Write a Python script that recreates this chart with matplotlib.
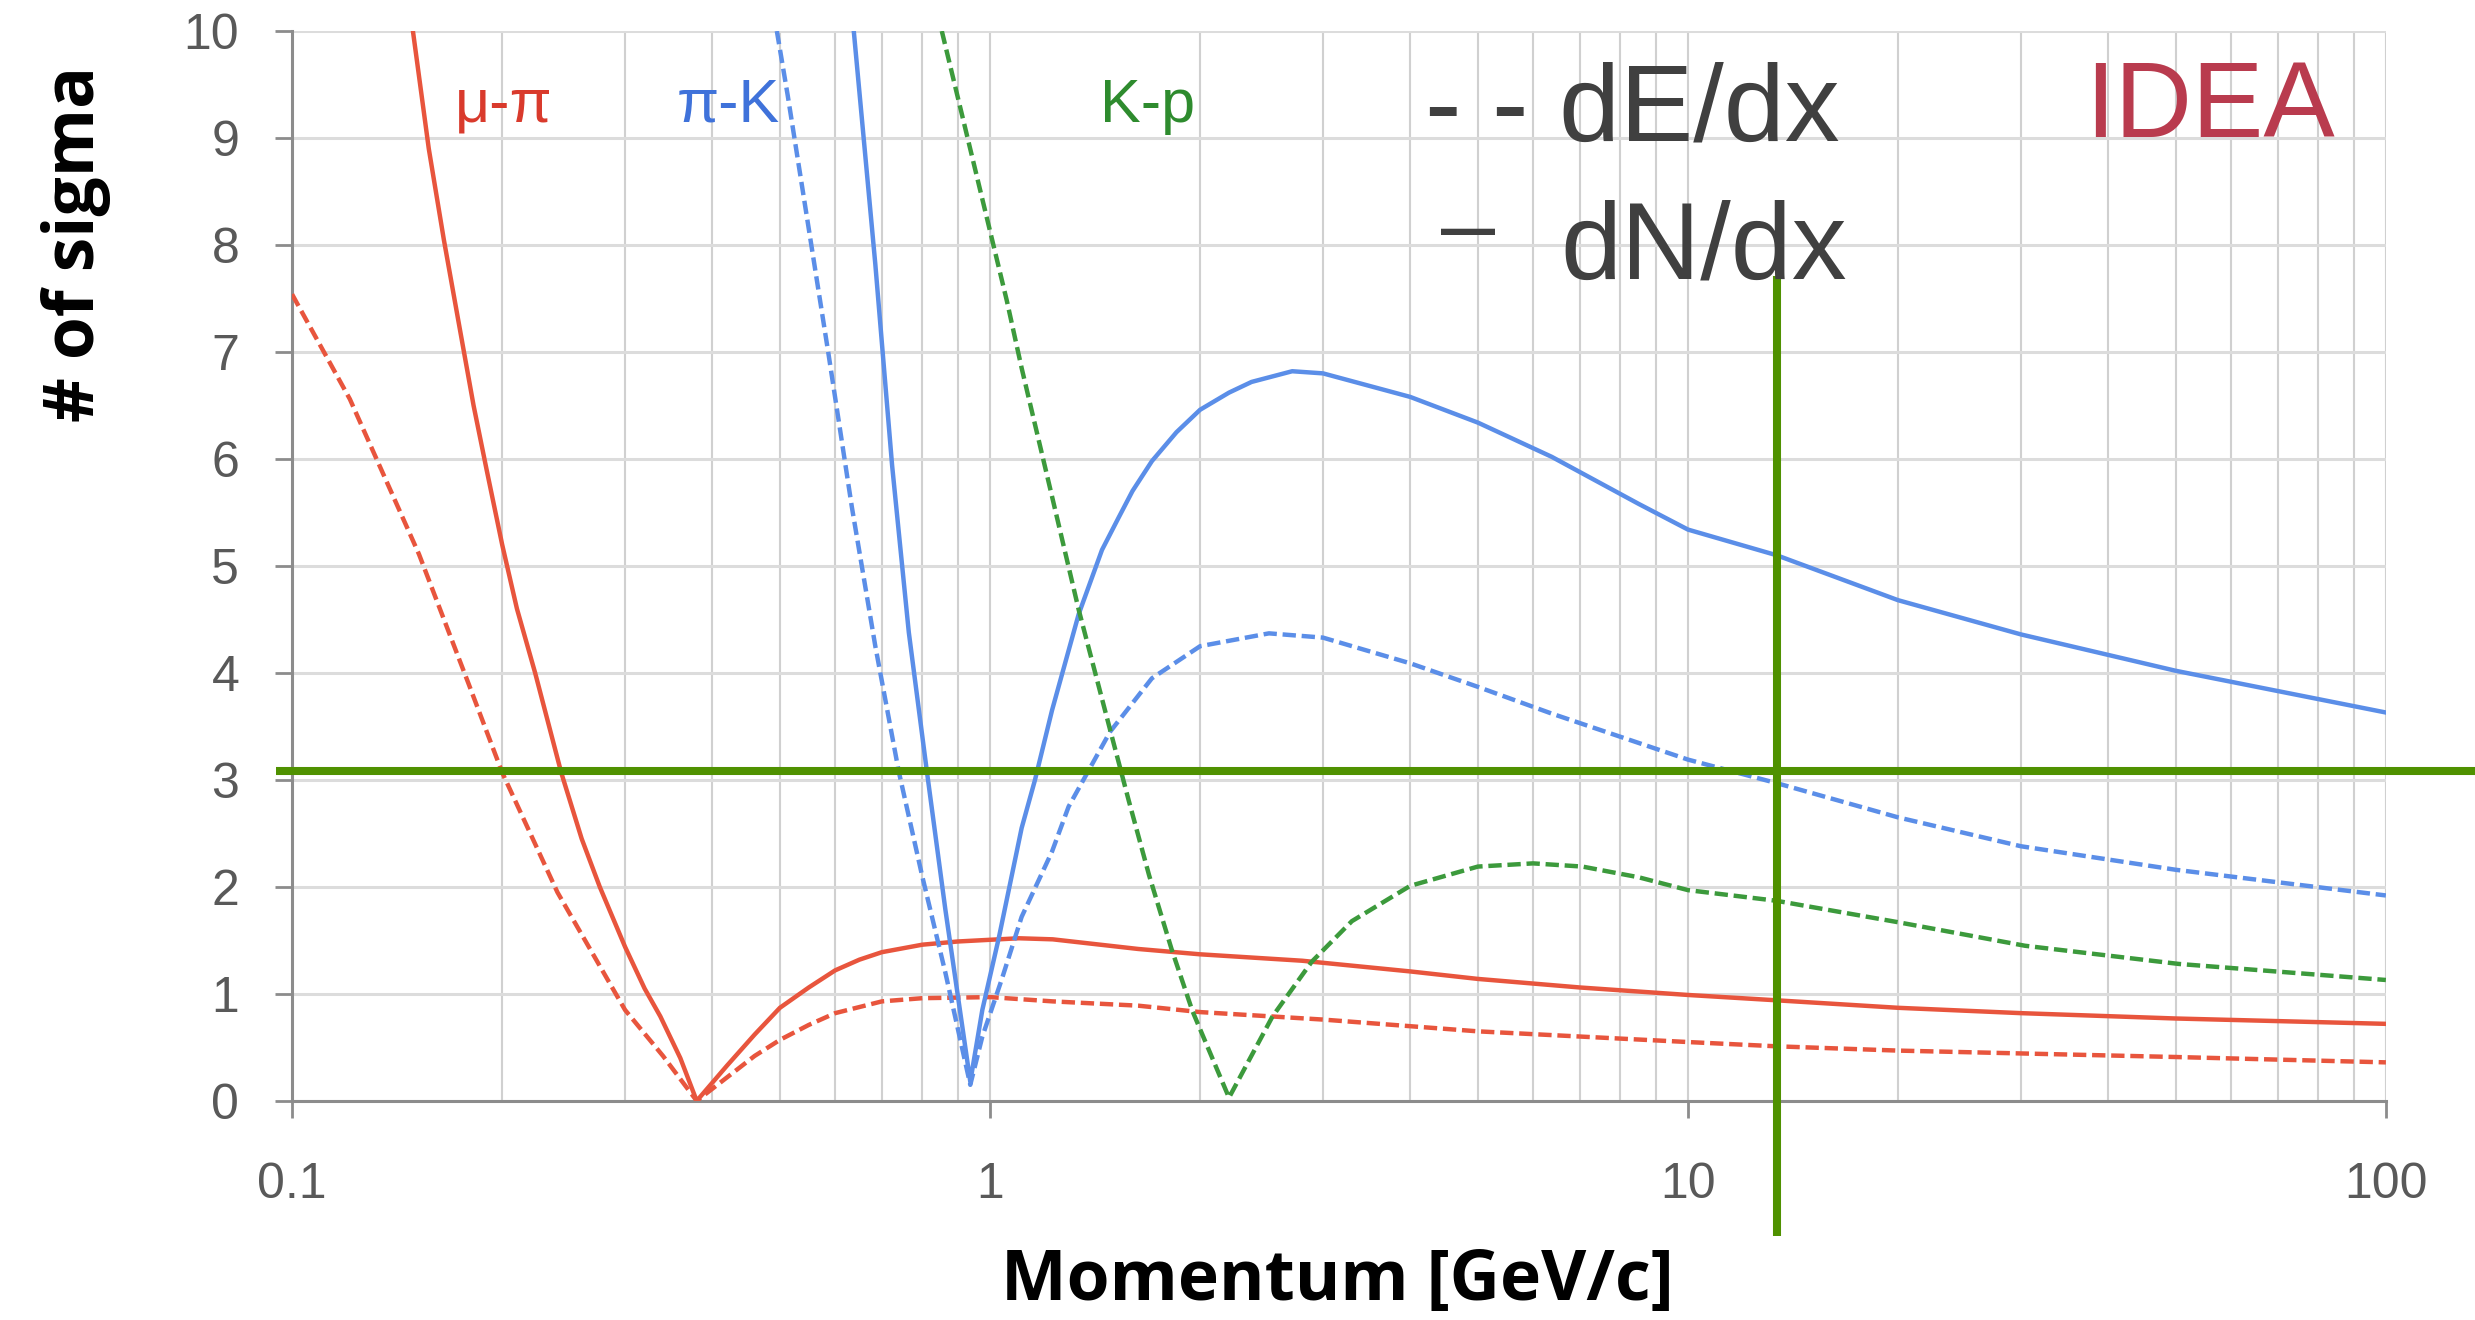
import matplotlib
matplotlib.use("Agg")
import matplotlib.pyplot as plt
from matplotlib.ticker import LogLocator, NullFormatter

plt.rcParams['font.family'] = ['Liberation Sans', 'DejaVu Sans']

# Momentum [GeV/c] and separation power [# of sigma]
# mu-pi, dN/dx (solid) and dE/dx (dashed)
p_mupi_dndx = [0.149, 0.157, 0.165, 0.173, 0.182, 0.19, 0.2, 0.21, 0.223, 0.243, 0.26,
               0.276, 0.3, 0.32, 0.337, 0.36, 0.38,
               0.42, 0.46, 0.5, 0.55, 0.6, 0.65, 0.7, 0.8, 0.9, 1.1, 1.23, 1.63, 2.0, 2.8,
               4, 5, 7, 10, 13.4, 20, 30, 50, 100]
s_mupi_dndx = [10, 8.9, 8.05, 7.3, 6.5, 5.9, 5.2, 4.6, 4.0, 3.07, 2.45,
               2.0, 1.44, 1.05, 0.79, 0.4, 0.0,
               0.33, 0.62, 0.87, 1.06, 1.22, 1.32, 1.39, 1.46, 1.49, 1.52, 1.51, 1.42, 1.37, 1.31,
               1.21, 1.14, 1.06, 0.99, 0.94, 0.87, 0.82, 0.77, 0.72]
p_mupi_dedx = [0.1, 0.121, 0.152, 0.179, 0.2, 0.24, 0.3, 0.34, 0.38,
               0.42, 0.46, 0.5, 0.55, 0.6, 0.7, 0.8, 1.0, 1.23, 1.63, 2.0, 3.0,
               5, 10, 13.4, 20, 50, 100]
s_mupi_dedx = [7.54, 6.56, 5.11, 3.9, 3.07, 1.95, 0.85, 0.42, 0.0,
               0.22, 0.42, 0.57, 0.71, 0.82, 0.93, 0.96, 0.97, 0.93, 0.89, 0.83, 0.76,
               0.65, 0.55, 0.51, 0.47, 0.41, 0.36]

# pi-K
p_pik_dndx = [0.638, 0.685, 0.724, 0.765, 0.812, 0.863, 0.937, 0.975, 1.03, 1.11,
              1.16, 1.227, 1.34, 1.447, 1.528, 1.6, 1.706, 1.85, 2.0, 2.2, 2.37, 2.71,
              3.0, 4, 5, 6.38, 8.5, 10, 13.4, 20, 30, 50, 100]
s_pik_dndx = [10, 7.82, 5.94, 4.38, 3.08, 1.79, 0.18, 0.85, 1.53, 2.55,
              3.0, 3.65, 4.55, 5.15, 5.45, 5.7, 5.98, 6.25, 6.46, 6.62, 6.72, 6.82,
              6.80, 6.58, 6.34, 6.02, 5.58, 5.34, 5.1, 4.68, 4.36, 4.02, 3.63]
p_pik_dedx = [0.495, 0.513, 0.55, 0.587, 0.634, 0.685, 0.74, 0.799, 0.863, 0.937,
              0.975, 1.04, 1.11, 1.227, 1.296, 1.486, 1.706, 2.0, 2.51, 3.0,
              4, 5, 6.38, 10, 13.4, 20, 30, 50, 100]
s_pik_dedx = [10, 9.4, 8.15, 6.98, 5.55, 4.25, 3.08, 2.11, 1.2, 0.15,
              0.6, 1.14, 1.72, 2.33, 2.75, 3.45, 3.95, 4.25, 4.37, 4.33,
              4.09, 3.87, 3.62, 3.19, 2.97, 2.65, 2.38, 2.16, 1.92]

# K-p, dE/dx only
p_kp_dedx = [0.853, 1.057, 1.11, 1.227, 1.34, 1.486, 1.58, 1.69, 1.82, 1.95, 2.2,
             2.54, 2.89, 3.3, 4, 5, 6, 7.06, 8.5, 10, 13.4, 20, 30.4, 50.5, 100]
s_kp_dedx = [10, 7.48, 6.85, 5.65, 4.59, 3.47, 2.81, 2.11, 1.42, 0.84, 0.03,
             0.79, 1.3, 1.68, 2.01, 2.19, 2.22, 2.19, 2.09, 1.97, 1.87, 1.67, 1.45, 1.28, 1.13]

# green guide lines: 3 sigma level and momentum cut
SIGMA_CUT = 3.08
P_CUT = 13.4

x_ticks = [0.1, 1, 10, 100]
x_tick_labels = ['0.1', '1', '10', '100']
y_ticks = list(range(0, 11))

RED = '#e8553d'
BLUE = '#5b8ee8'
GREEN = '#3c9a3c'
CUT_GREEN = '#4f9100'
LW = 3.2
dash = (0, (3.0, 1.3))

fig = plt.figure(figsize=(24.75, 13.2), dpi=100)
ax = fig.add_axes([0.118, 0.166, 0.846, 0.8105])

ax.plot(p_mupi_dndx, s_mupi_dndx, color=RED, lw=LW, zorder=3)
ax.plot(p_mupi_dedx, s_mupi_dedx, color=RED, lw=LW, ls=dash, zorder=3)
ax.plot(p_pik_dndx, s_pik_dndx, color=BLUE, lw=LW, zorder=3)
ax.plot(p_pik_dedx, s_pik_dedx, color=BLUE, lw=LW, ls=dash, zorder=3)
ax.plot(p_kp_dedx, s_kp_dedx, color=GREEN, lw=LW, ls=dash, zorder=3)

# guide lines run past the plot area
ax.plot([-0.0076, 1.06], [SIGMA_CUT, SIGMA_CUT], transform=ax.get_yaxis_transform(),
        color=CUT_GREEN, lw=5.8, clip_on=False, zorder=5, solid_capstyle='butt')
ax.plot([P_CUT, P_CUT], [-1.26, 7.71], color=CUT_GREEN, lw=5.8,
        clip_on=False, zorder=5, solid_capstyle='butt')

ax.set_xscale('log')
ax.set_xlim(0.1, 100)
ax.set_ylim(0, 10)
ax.set_xticks(x_ticks)
ax.set_xticklabels(x_tick_labels)
ax.xaxis.set_minor_locator(LogLocator(base=10, subs=range(2, 10)))
ax.xaxis.set_minor_formatter(NullFormatter())
ax.set_yticks(y_ticks)

ax.grid(True, which='major', axis='y', color='#dcdcdc', lw=2.2, zorder=0)
ax.grid(True, which='both', axis='x', color='#d0d0d0', lw=1.5, zorder=0)
ax.set_axisbelow(True)

for side in ['top', 'right']:
    ax.spines[side].set_visible(False)
for side in ['left', 'bottom']:
    ax.spines[side].set_color('#8c8c8c')
    ax.spines[side].set_linewidth(2.2)

ax.tick_params(which='major', direction='out', length=12, width=2, color='#8c8c8c',
               labelsize=36, labelcolor='#595959')
ax.tick_params(axis='x', which='major', pad=32)
ax.tick_params(axis='y', which='major', pad=26)
ax.tick_params(which='minor', length=0)

# series labels
ax.text(0.201, 9.15, 'μ-π', color='#d93a2c', fontsize=44, ha='center', va='baseline')
ax.text(0.421, 9.15, 'π-K', color='#3f72da', fontsize=44, ha='center', va='baseline')
ax.text(1.684, 9.15, 'K-p', color='#2e8b2e', fontsize=44, ha='center', va='baseline')

# line style key and experiment name
fig.text(1425 / 2475, 1 - 140 / 1320, '- - dE/dx', color='#404040', fontsize=79,
         ha='left', va='baseline')
fig.text(1441 / 2475, 1 - 256 / 1320, '–', color='#404040', fontsize=70,
         ha='left', va='baseline')
fig.text(1560 / 2475, 1 - 278 / 1320, 'dN/dx', color='#404040', fontsize=79,
         ha='left', va='baseline')
fig.text(2085 / 2475, 1 - 137 / 1320, 'IDEA', color='#b93b4e', fontsize=77,
         ha='left', va='baseline')

# axis titles
fig.text(1337 / 2475, 1 - 1300 / 1320, 'Momentum [GeV/c]', fontsize=50,
         fontweight='bold', family=['Open Sans', 'DejaVu Sans'],
         ha='center', va='baseline', color='black')
fig.text(76 / 2475, 1 - 244 / 1320, '# of sigma', fontsize=50, rotation=90,
         fontweight='bold', family=['Open Sans', 'DejaVu Sans'],
         ha='center', va='center', color='black')

fig.savefig('out.png', dpi=100)
plt.close(fig)
